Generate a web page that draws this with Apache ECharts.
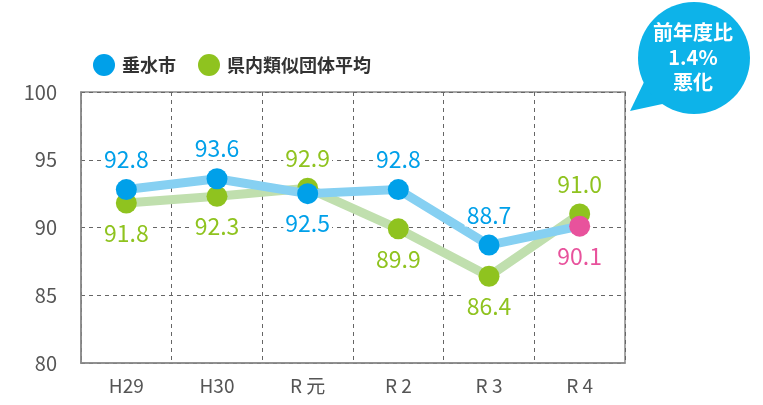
<!DOCTYPE html>
<html>
<head>
<meta charset="utf-8">
<script src="https://cdn.jsdelivr.net/npm/echarts@6/dist/echarts.min.js"></script>
<style>
html,body{margin:0;padding:0;background:#fff;}
#chart{width:763px;height:405px;}
</style>
</head>
<body>
<div id="chart"></div>
<script>
const categories = ['H29', 'H30', 'R 元', 'R 2', 'R 3', 'R 4'];
const tarumizu = [92.8, 93.6, 92.5, 92.8, 88.7, 90.1];
const similarAvg = [91.8, 92.3, 92.9, 89.9, 86.4, 91.0];
const yTicks = { min: 80, max: 100, interval: 5 };
const seriesNames = ['垂水市', '県内類似団体平均'];
const bubbleText = ['前年度比', '1.4%', '悪化'];

const FONT = '"Noto Sans CJK JP", "Noto Sans", sans-serif';
const BLUE = '#00a0e9', BLUE_LINE = '#86d0f2';
const GREEN = '#8fc31f', GREEN_LINE = '#c0dfae';
const PINK = '#e8529c';

const bluePos = ['top', 'top', 'bottom', 'top', 'top', 'bottom'];
const greenPos = ['bottom', 'bottom', 'top', 'bottom', 'bottom', 'top'];

function build(vals, pos, color, lastColor) {
  return vals.map((v, i) => {
    const c = (lastColor && i === vals.length - 1) ? lastColor : color;
    return {
      value: v,
      itemStyle: { color: c },
      label: { position: pos[i], color: c }
    };
  });
}

const labelCfg = {
  show: true, fontSize: 23, distance: 8, fontFamily: FONT,
  backgroundColor: '#fff', padding: [0, 2],
  formatter: p => p.value.toFixed(1)
};

const chart = echarts.init(document.getElementById('chart'), null, { renderer: 'canvas' });
chart.setOption({
  animation: false,
  textStyle: { fontFamily: FONT },
  grid: { left: 81, right: 138, top: 92, bottom: 42, show: true, borderColor: '#8a8a8a', borderWidth: 1.5 },
  legend: {
    data: seriesNames,
    left: 88, top: 49,
    icon: 'circle', itemWidth: 22, itemHeight: 22, itemGap: 22,
    textStyle: { fontSize: 18, color: '#333', fontWeight: 'bold', fontFamily: FONT, padding: [0, 0, 0, 2] }
  },
  xAxis: {
    type: 'category', data: categories, boundaryGap: true,
    axisLine: { show: true, lineStyle: { color: '#8a8a8a', width: 1.5 } },
    axisTick: { show: false },
    axisLabel: { color: '#555', fontSize: 19, margin: 13, fontFamily: FONT },
    splitLine: { show: true, lineStyle: { color: '#666', type: [4, 4], width: 1 } }
  },
  yAxis: {
    type: 'value', min: yTicks.min, max: yTicks.max, interval: yTicks.interval,
    axisLine: { show: true, lineStyle: { color: '#8a8a8a', width: 1.5 } },
    axisTick: { show: false },
    axisLabel: { color: '#555', fontSize: 20, margin: 24, fontFamily: FONT },
    splitLine: { show: true, lineStyle: { color: '#666', type: [4, 4], width: 1 } }
  },
  series: [
    {
      name: seriesNames[1], type: 'line', data: build(similarAvg, greenPos, GREEN),
      symbol: 'circle', symbolSize: 21,
      itemStyle: { color: GREEN },
      lineStyle: { color: GREEN_LINE, width: 9 },
      label: labelCfg,
      z: 2
    },
    {
      name: seriesNames[0], type: 'line', data: build(tarumizu, bluePos, BLUE, PINK),
      symbol: 'circle', symbolSize: 21,
      itemStyle: { color: BLUE },
      lineStyle: { color: BLUE_LINE, width: 9 },
      label: labelCfg,
      z: 3
    }
  ],
  graphic: [
    { type: 'polygon', shape: { points: [[646, 78], [630, 111], [667, 103]] }, style: { fill: '#0db3e9' }, z: 10 },
    { type: 'circle', shape: { cx: 694, cy: 58, r: 56 }, style: { fill: '#0db3e9' }, z: 10 },
    {
      type: 'text', x: 693, y: 57, z: 11,
      style: {
        text: bubbleText.join('\n'), fill: '#fff', font: 'bold 20px ' + FONT,
        align: 'center', verticalAlign: 'middle', lineHeight: 25
      }
    }
  ]
});
</script>
</body>
</html>
